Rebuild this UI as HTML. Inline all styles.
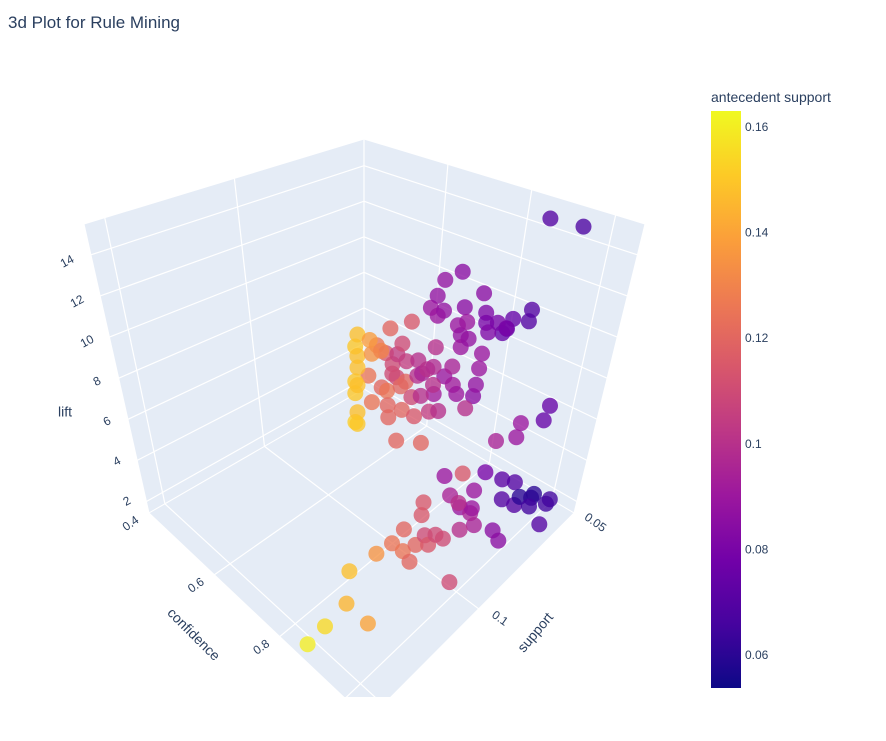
<!DOCTYPE html>
<html><head><meta charset="utf-8"><style>
html,body{margin:0;padding:0;background:#fff;}
svg{display:block;font-family:"Liberation Sans",sans-serif;}
</style></head><body>
<svg id="chart" width="886" height="741" viewBox="0 0 886 741">
<text x="8" y="28" font-size="17" fill="#2a3f5f">3d Plot for Rule Mining</text>
<defs>
<clipPath id="sceneClip"><rect x="0" y="40" width="700" height="657"/></clipPath>
<linearGradient id="plasma" x1="0" y1="1" x2="0" y2="0">
<stop offset="0" stop-color="#0d0887"/><stop offset="0.111" stop-color="#46039f"/><stop offset="0.222" stop-color="#7201a8"/><stop offset="0.333" stop-color="#9c179e"/><stop offset="0.444" stop-color="#bd3786"/><stop offset="0.556" stop-color="#d8576b"/><stop offset="0.667" stop-color="#ed7953"/><stop offset="0.778" stop-color="#fb9f3a"/><stop offset="0.889" stop-color="#fdca26"/><stop offset="1" stop-color="#f0f921"/>
</linearGradient>
</defs>
<g id="scene" clip-path="url(#sceneClip)"></g>
<g id="labels"></g>
<g id="colorbar">
<text x="711" y="102" font-size="14" fill="#2a3f5f">antecedent support</text>
<rect x="711" y="111" width="30" height="577" fill="url(#plasma)"/>
</g>
</svg>
<script>
// ---- data ----
const confidence = [0.882,0.933,
0.751,0.710,0.694,0.679,0.713,0.698,0.765,0.809,0.820,0.775,0.752,0.762,0.783,0.823,0.852,0.831,0.765,0.875,
0.810,0.820,0.832,0.875,0.872,
0.822,0.819,0.748,0.729,0.816,0.812,0.754,0.766,0.704,0.881,0.791,
0.965,0.956,0.949,0.943,0.890,
0.671,0.726,0.704,0.636,0.661,0.692,0.680,0.717,0.748,0.760,0.789,0.773,0.748,0.717,0.680,0.692,0.614,0.652,0.667,0.704,0.735,0.760,0.791,0.785,0.810,0.745,0.710,0.673,0.670,0.625,0.698,0.769,
0.715,0.721,0.745,0.683,0.677,0.683,0.683,0.677,0.683,0.677,0.683,0.677,0.683,
0.785,0.921,0.900,0.897,0.934,0.875,0.807,0.918,0.840,0.875,0.872,0.905,0.955,0.945,0.939,0.993,0.985,0.943,0.986,0.818,0.815,0.941,0.929,0.944,0.965,1.000,0.825,0.887,0.918,0.940,0.899,0.862,0.791,0.825,0.847,0.970,0.807,
0.824,0.875,0.940,0.875,0.856];
const support = [0.0554,0.050,
0.0662,0.0662,0.0662,0.0662,0.0662,0.0662,0.0662,0.0662,0.0662,0.0662,0.0662,0.0662,0.0662,0.0662,0.0662,0.0662,0.0662,0.0662,
0.0554,0.0554,0.0554,0.0554,0.0554,
0.0662,0.0662,0.0662,0.0662,0.0662,0.0662,0.0662,0.0662,0.0662,0.0824,0.0824,
0.0554,0.0554,0.0662,0.0662,0.0662,
0.0824,0.0824,0.0824,0.0824,0.0824,0.0824,0.0824,0.0824,0.0824,0.0824,0.0824,0.0824,0.0824,0.0824,0.0824,0.0824,0.0824,0.0824,0.0824,0.0824,0.0824,0.0824,0.0824,0.0824,0.0824,0.0824,0.0824,0.0824,0.0824,0.0824,0.0824,0.0824,
0.0986,0.0986,0.0986,0.0986,0.0986,0.0986,0.0986,0.0986,0.0986,0.0986,0.0986,0.0986,0.0986,
0.0716,0.0878,0.0716,0.0608,0.0608,0.0716,0.0716,0.0878,0.0716,0.0716,0.0716,0.0608,0.0608,0.050,0.050,0.050,0.050,0.0608,0.0608,0.0878,0.0878,0.0824,0.0878,0.0716,0.0716,0.055,0.0986,0.0986,0.0986,0.0986,0.0986,0.0986,0.0986,0.0986,0.0986,0.0986,0.1094,
0.126,0.136,0.136,0.147,0.153];
const lift = [14.94,14.50,
11.99,11.23,10.28,9.53,9.68,9.29,10.30,11.37,10.48,9.64,9.27,8.86,8.86,10.00,10.25,9.59,8.28,10.17,
8.60,8.90,9.50,10.30,9.70,
8.45,7.68,7.14,6.46,6.84,6.23,6.26,5.91,5.32,7.49,9.63,
6.25,5.45,6.14,5.40,4.72,
9.44,10.30,8.99,8.24,8.09,8.34,7.72,8.23,8.57,8.04,8.64,8.37,7.81,7.21,7.24,7.18,6.47,6.26,6.24,6.84,6.61,6.92,7.77,6.39,6.67,5.76,5.72,4.96,5.54,5.23,4.05,4.68,
10.31,9.70,10.08,10.26,9.61,9.20,8.63,7.88,7.76,7.30,6.42,5.87,5.84,
2.37,5.16,3.72,2.44,2.65,2.57,1.63,3.72,1.38,1.70,1.43,1.53,2.13,1.24,0.99,1.42,1.12,1.62,1.96,2.68,2.03,2.46,2.56,1.32,1.04,0.70,2.29,2.71,3.08,3.14,2.40,1.97,1.23,1.25,1.00,1.44,1.75,
2.39,2.30,2.22,2.10,1.50];
const antecedentSupport = [0.070,0.068,
0.085,0.088,0.088,0.090,0.088,0.090,0.085,0.085,0.082,0.090,0.090,0.088,0.088,0.080,0.080,0.082,0.090,0.080,
0.075,0.075,0.075,0.070,0.070,
0.090,0.090,0.095,0.090,0.088,0.085,0.092,0.090,0.092,0.100,0.100,
0.075,0.075,0.090,0.090,0.095,
0.120,0.115,0.110,0.125,0.115,0.105,0.110,0.105,0.100,0.095,0.098,0.100,0.100,0.120,0.110,0.110,0.125,0.120,0.125,0.120,0.110,0.100,0.100,0.105,0.100,0.115,0.120,0.120,0.120,0.125,0.120,0.120,
0.138,0.135,0.130,0.148,0.150,0.148,0.148,0.150,0.148,0.150,0.148,0.152,0.150,
0.090,0.115,0.080,0.072,0.070,0.090,0.095,0.100,0.090,0.090,0.095,0.070,0.060,0.060,0.060,0.065,0.065,0.070,0.065,0.115,0.115,0.095,0.100,0.085,0.085,0.070,0.120,0.110,0.110,0.110,0.115,0.120,0.125,0.125,0.120,0.110,0.135,
0.148,0.145,0.140,0.155,0.160];
const liftTicks = [2,4,6,8,10,12,14];
const confTicks = [0.4,0.6,0.8];
const supportTicks = [0.05,0.1];
const colorTicks = [0.06,0.08,0.1,0.12,0.14,0.16];

// ---- axes (ranges) ----
const CONF=[0.4,1.07], SUP=[0.05,0.158], LIFT=[1.44,15.5], CRANGE=[0.0539,0.1632];
const CORN = {
  '000':[364,389],'100':[574,513],'010':[149,513],'110':[368,720],
  '001':[364,139],'101':[645,224],'011':[84,224],'111':[368,390]
};
function proj(c,s,l){
  let x=0,y=0;
  for(const a of [0,1])for(const b of [0,1])for(const d of [0,1]){
    const w=(a?c:1-c)*(b?s:1-s)*(d?l:1-l);
    const p=CORN[''+a+b+d]; x+=w*p[0]; y+=w*p[1];
  }
  return [x,y];
}
const cn=v=>(v-CONF[0])/(CONF[1]-CONF[0]);
const sn=v=>(v-SUP[0])/(SUP[1]-SUP[0]);
const ln=v=>(v-LIFT[0])/(LIFT[1]-LIFT[0]);
const colorY=v=>111+(CRANGE[1]-v)/(CRANGE[1]-CRANGE[0])*577;
const STOPS=['#0d0887','#46039f','#7201a8','#9c179e','#bd3786','#d8576b','#ed7953','#fb9f3a','#fdca26','#f0f921'];
function plasma(v){
  let t=Math.max(0,Math.min(1,(v-CRANGE[0])/(CRANGE[1]-CRANGE[0])))*(STOPS.length-1);
  const i=Math.min(STOPS.length-2,Math.floor(t)), f=t-i;
  const h=s=>[1,3,5].map(k=>parseInt(s.substr(k,2),16));
  const a=h(STOPS[i]),b=h(STOPS[i+1]);
  return 'rgb('+a.map((q,k)=>Math.round(q+(b[k]-q)*f)).join(',')+')';
}
const NS='http://www.w3.org/2000/svg';
const scene=document.getElementById('scene'), labels=document.getElementById('labels');
function mk(tag,attrs,parent){const e=document.createElementNS(NS,tag);for(const k in attrs)e.setAttribute(k,attrs[k]);parent.appendChild(e);return e;}
function poly(pts,name){
  const e=mk('polygon',{points:pts.map(p=>p.join(',')).join(' '),fill:'#e5ecf6',stroke:'#ffffff','stroke-width':1},scene);
  
  
}
function line(a,b,name){
  const e=mk('line',{x1:a[0],y1:a[1],x2:b[0],y2:b[1],stroke:'#ffffff','stroke-width':1.2},scene);
  
  
}
poly([proj(0,0,0),proj(0,1,0),proj(0,1,1),proj(0,0,1)],'left-wall');
poly([proj(0,0,0),proj(1,0,0),proj(1,0,1),proj(0,0,1)],'right-wall');
poly([proj(0,0,0),proj(1,0,0),proj(1,1,0),proj(0,1,0)],'floor');
for(const v of liftTicks){const l=ln(v);
  line(proj(0,0,l),proj(0,1,l),'lift-gridline');
  line(proj(0,0,l),proj(1,0,l),'lift-gridline');}
for(const v of [0.1,0.15]){const s=sn(v);
  line(proj(0,s,0),proj(0,s,1),'support-gridline');
  line(proj(0,s,0),proj(1,s,0),'support-gridline');}
for(const v of [0.6,0.8,1.0]){const c=cn(v);
  line(proj(c,0,0),proj(c,0,1),'confidence-gridline');
  line(proj(c,0,0),proj(c,1,0),'confidence-gridline');}
line(proj(0,0,0),proj(0,0,1),'back-edge');

const idx=confidence.map((_,i)=>i).sort((a,b)=>(cn(confidence[a])+sn(support[a]))-(cn(confidence[b])+sn(support[b])));
for(const i of idx){
  const p=proj(cn(confidence[i]),sn(support[i]),ln(lift[i]));
  const e=mk('circle',{cx:p[0].toFixed(1),cy:p[1].toFixed(1),r:8,fill:plasma(antecedentSupport[i]),'fill-opacity':0.78},scene);
  
  
}

function txt(x,y,str,rot,name,size,anchor){
  const e=mk('text',{x:x,y:y,'font-size':size||12,fill:'#2a3f5f','text-anchor':anchor||'middle','dominant-baseline':'middle',transform:'rotate('+rot+' '+x+' '+y+')'},labels);
  e.textContent=str;
  
  
}
for(const v of liftTicks){const l=ln(v);const p=proj(0,1,l);
  txt(p[0]-19-5*l,p[1]+8*l,String(v),-28,'lift-tick-label');}
for(const v of confTicks){const p=proj(cn(v),1,0);
  txt(p[0]-18,p[1]+11,String(v),-35,'confidence-tick-label');}
for(const v of supportTicks){const p=proj(1,sn(v),0);
  txt(p[0]+21,p[1]+10,String(v),35,'support-tick-label');}
txt(65,413,'lift',0,'lift-axis-title',14);
txt(193,635,'confidence',45,'confidence-axis-title',14);
txt(536,633,'support',-50,'support-axis-title',14);
const cb=document.getElementById('colorbar');
for(const v of colorTicks){
  const e=mk('text',{x:745,y:colorY(v),'font-size':12,fill:'#2a3f5f','dominant-baseline':'middle'},cb);
  e.textContent=String(v);
  
  
}
</script>
</body></html>
